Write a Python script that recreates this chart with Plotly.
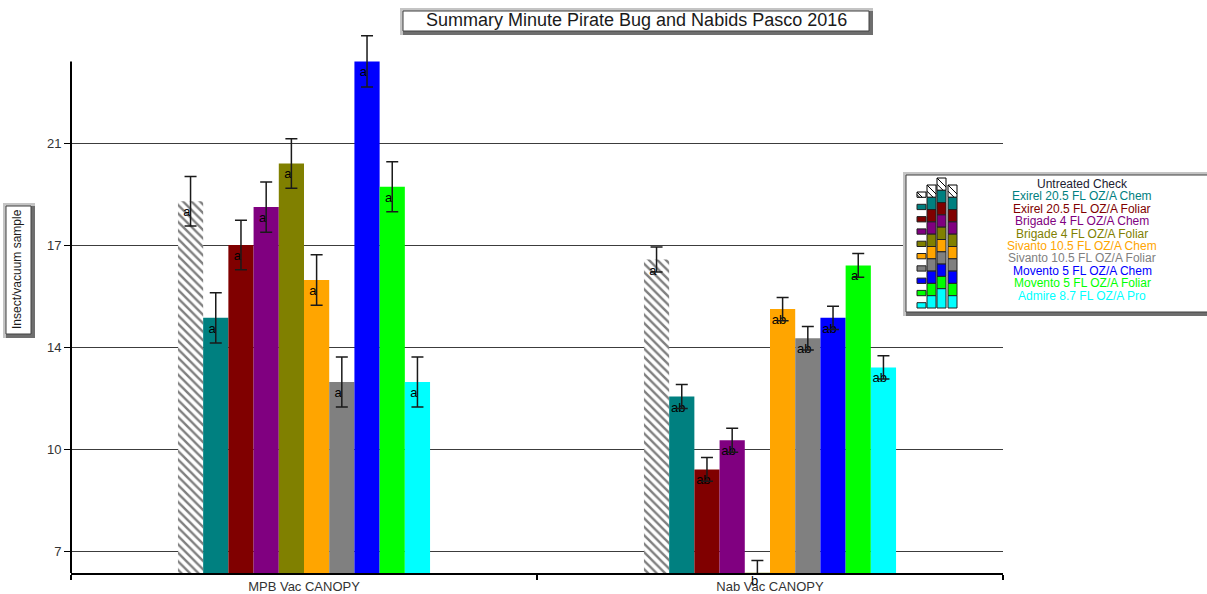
import plotly.graph_objects as go

# ---------------- data ----------------
categories = ["MPB Vac CANOPY", "Nab Vac CANOPY"]
treatments = [
    "Untreated Check",
    "Exirel 20.5 FL OZ/A Chem",
    "Exirel 20.5 FL OZ/A Foliar",
    "Brigade 4 FL OZ/A Chem",
    "Brigade 4 FL OZ/A Foliar",
    "Sivanto 10.5 FL OZ/A Chem",
    "Sivanto 10.5 FL OZ/A Foliar",
    "Movento 5 FL OZ/A Chem",
    "Movento 5 FL OZ/A Foliar",
    "Admire 8.7 FL OZ/A Pro",
]
colors = ["#ffffff", "#008080", "#800000", "#800080", "#808000",
          "#ffa500", "#808080", "#0000ff", "#00ff00", "#00ffff"]
text_colors = ["#202030", "#008080", "#800000", "#800080", "#808000",
               "#ffa500", "#808080", "#0000ff", "#00ff00", "#00ffff"]
mpb_mean = [19.0, 15.0, 17.5, 18.8, 20.3, 16.3, 12.8, 23.8, 19.5, 12.8]
mpb_err = [0.85, 0.86, 0.85, 0.86, 0.85, 0.87, 0.86, 0.88, 0.86, 0.86]
nab_mean = [17.0, 12.3, 9.8, 10.8, 6.25, 15.3, 14.3, 15.0, 16.8, 13.3]
nab_err = [0.43, 0.41, 0.41, 0.41, 0.42, 0.40, 0.40, 0.40, 0.41, 0.40]
mpb_letters = ["a", "a", "a", "a", "a", "a", "a", "a", "a", "a"]
nab_letters = ["a", "ab", "ab", "ab", "b", "ab", "ab", "ab", "a", "ab"]
ytick_vals = [7, 10.5, 14, 17.5, 21]
ytick_text = ["7", "10", "14", "17", "21"]
title_text = "Summary Minute Pirate Bug and Nabids Pasco 2016"
ytitle_text = "Insect/vacuum sample"

# ---------------- layout geometry (pixels) ----------------
W, H = 1207, 594
L, R, T, B = 71, 1003, 30, 573
Y_MIN, Y_MAX = 6.245, 24.878
FONT = "Liberation Sans, Arial, sans-serif"


def px(x):
    return (x - L) / (R - L)


def py(y):
    return (B - y) / (B - T)


fig = go.Figure()

means = [mpb_mean, nab_mean]
errs = [mpb_err, nab_err]
letters = [mpb_letters, nab_letters]
below_floor = []

for i, name in enumerate(treatments):
    ys = [m[i] for m in means]
    txt = []
    for k in range(len(categories)):
        if ys[k] <= Y_MIN + 0.05:
            txt.append("")
            below_floor.append((k, i, letters[k][i]))
        else:
            txt.append(letters[k][i] + "\u00a0\u00a0")
    marker = dict(color=colors[i], line=dict(width=0))
    if i == 0:
        marker = dict(color="white", line=dict(width=0),
                      pattern=dict(shape="\\", fgcolor="black", bgcolor="white",
                                   size=6, solidity=0.4))
    fig.add_trace(go.Bar(
        x=categories, y=ys, name=name, marker=marker,
        error_y=dict(type="data", array=[e[i] for e in errs], visible=True,
                     color="#1a1a1a", thickness=1.5, width=6),
        text=txt, textposition="inside", insidetextanchor="end", textangle=0,
        constraintext="none",
        textfont=dict(family=FONT, size=13, color="black"),
        showlegend=False,
    ))

shapes = []
annotations = []

# y-axis line (stops below the top of the plot like the original)
shapes.append(dict(type="line", xref="paper", yref="y", x0=0, x1=0,
                   y0=Y_MIN, y1=23.8, line=dict(color="black", width=2), layer="above"))

# letters for bars that sit below the axis floor
n = len(treatments)
for k, i, let in below_floor:
    annotations.append(dict(x=categories[k], xref="x", y=0, yref="paper",
                            text=let, showarrow=False, xanchor="center", yanchor="top",
                            xshift=(i - (n - 1) / 2) * 25.2 - 3, yshift=2,
                            font=dict(family=FONT, size=13, color="black")))


def bevel_box(x0, y0, x1, y1):
    shapes.append(dict(type="rect", xref="paper", yref="paper",
                       x0=px(x0), x1=px(x1), y0=py(y0), y1=py(y1),
                       fillcolor="#c4c4c4", line=dict(width=0)))
    shapes.append(dict(type="rect", xref="paper", yref="paper",
                       x0=px(x0 + 3), x1=px(x1), y0=py(y0 + 3), y1=py(y1),
                       fillcolor="#6e6e6e", line=dict(width=0)))
    shapes.append(dict(type="rect", xref="paper", yref="paper",
                       x0=px(x0 + 3), x1=px(x1 - 4), y0=py(y0 + 3), y1=py(y1 - 4),
                       fillcolor="white", line=dict(color="#404040", width=1)))


def label(x, y, text, size, color, angle=0):
    annotations.append(dict(x=px(x), y=py(y), xref="paper", yref="paper",
                            xanchor="center", yanchor="middle",
                            text=text, showarrow=False, textangle=angle,
                            font=dict(family=FONT, size=size, color=color)))


# title box
bevel_box(400, 8, 873, 35)
label(636, 20, title_text, 18, "#1a1a1a")

# y-axis title box
bevel_box(3, 203, 35, 338)
label(17, 269, ytitle_text, 12, "#1a1a1a", -90)

# legend box
bevel_box(903, 172, 1220, 316)
row = 12.3
for i, name in enumerate(treatments):
    label(1082, 184 + 12.4 * i, name, 12, text_colors[i])


def cell(x0, y0, x1, y1, idx):
    if idx == 0:
        shapes.append(dict(type="rect", xref="paper", yref="paper",
                           x0=px(x0), x1=px(x1), y0=py(y0), y1=py(y1),
                           fillcolor="white", line=dict(color="black", width=1)))
        h = y1 - y0
        w = x1 - x0
        for f in (0.0, 0.5):
            d = min(w, h - f * h)
            shapes.append(dict(type="line", xref="paper", yref="paper",
                               x0=px(x0), y0=py(y0 + f * h),
                               x1=px(x0 + d), y1=py(y0 + f * h + d),
                               line=dict(color="black", width=1)))
    else:
        shapes.append(dict(type="rect", xref="paper", yref="paper",
                           x0=px(x0), x1=px(x1), y0=py(y0), y1=py(y1),
                           fillcolor=colors[idx], line=dict(color="#202020", width=1)))


for i in range(n):
    top2 = 185 + row * i
    cell(917, top2 + 7, 926, top2 + row, i)
    cell(927, top2, 936, top2 + row, i)
    top3 = 178 + row * i
    bot3 = top3 + row if i < n - 1 else 308
    cell(937, top3, 946, bot3, i)
    cell(948, top2, 957, top2 + row, i)

fig.update_layout(
    width=W, height=H,
    margin=dict(l=L, r=W - R, t=T, b=H - B, autoexpand=False),
    paper_bgcolor="white", plot_bgcolor="white",
    barmode="group", bargap=0.459, bargroupgap=0,
    showlegend=False,
    font=dict(family=FONT, size=13, color="#333333"),
    xaxis=dict(type="category", categoryorder="array", categoryarray=categories,
               showline=True, linecolor="black", linewidth=2,
               ticks="outside", ticklen=5, tickcolor="black", tickwidth=2,
               tickson="boundaries", showgrid=False, automargin=False,
               tickfont=dict(family=FONT, size=13, color="#333333")),
    yaxis=dict(range=[Y_MIN, Y_MAX], tickvals=ytick_vals, ticktext=ytick_text,
               showline=False, zeroline=False,
               ticks="outside", ticklen=6, tickcolor="black", tickwidth=1,
               showgrid=True, gridcolor="#3c3c3c", gridwidth=1, automargin=False,
               tickfont=dict(family=FONT, size=13, color="#333333")),
    shapes=shapes,
    annotations=annotations,
)

fig.write_html("out.html", config={"displayModeBar": False},
               post_script="document.body.style.margin='0px';")
